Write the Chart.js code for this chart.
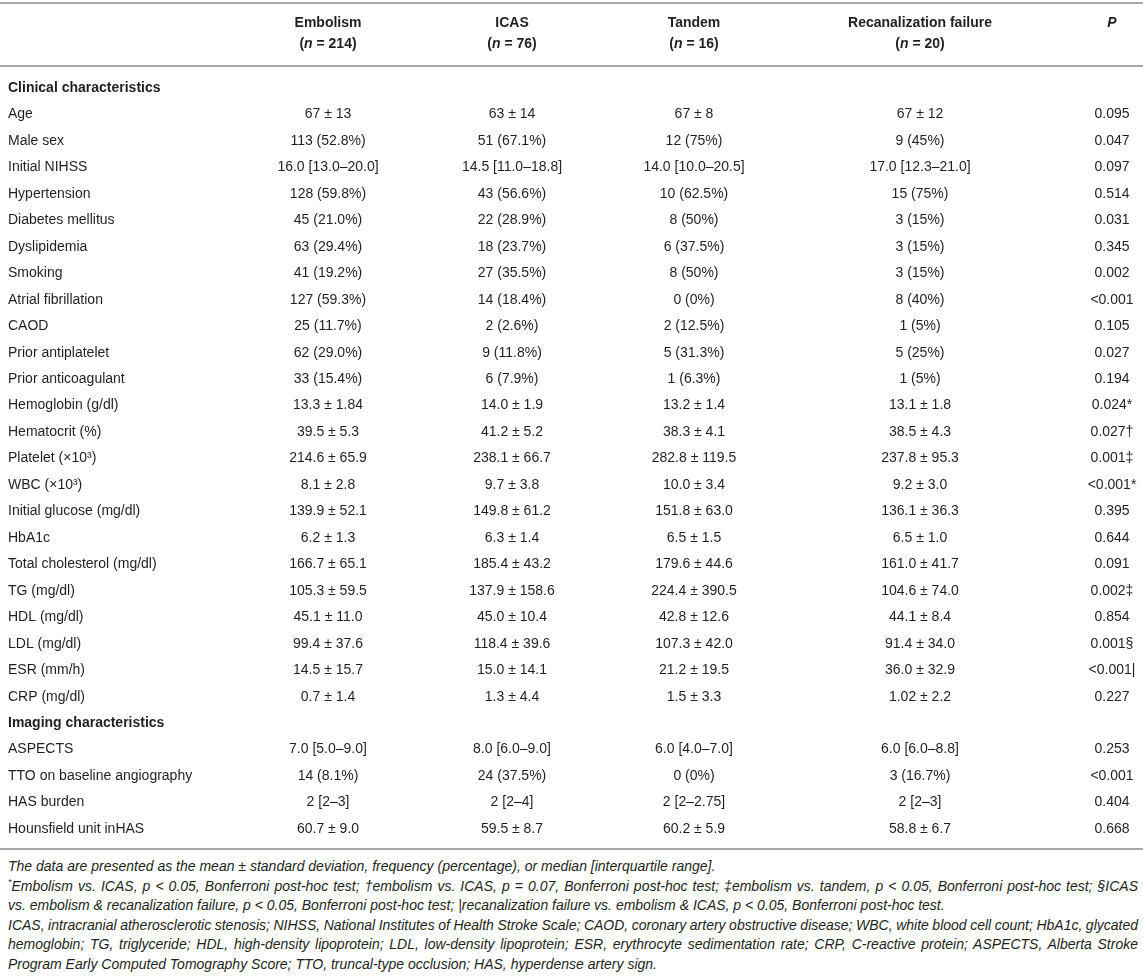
<!DOCTYPE html>
<html>
<head>
<meta charset="utf-8">
<script src="https://cdn.jsdelivr.net/npm/chart.js@4.4.1/dist/chart.umd.min.js"></script>
<style>
  html, body { margin: 0; padding: 0; background: #ffffff; }
  #wrap { position: relative; width: 1143px; height: 852px; }
  #notes { width: 1130px; margin-left: 8px; padding-top: 5px;
           font-family: "Liberation Sans", Arial, sans-serif; font-style: italic;
           font-size: 14px; line-height: 19.5px; color: #231f20; }
  #notes div { white-space: nowrap; }
  #notes sup { font-size: 9px; line-height: 0; }
</style>
</head>
<body>
<div id="wrap"><canvas id="c" width="1143" height="852"></canvas></div>
<div id="notes">
  <div><span>The data are presented as the mean ± standard deviation, frequency (percentage), or median [interquartile range].</span></div>
  <div class="j"><span><sup>*</sup>Embolism vs. ICAS, p &lt; 0.05, Bonferroni post-hoc test; †embolism vs. ICAS, p = 0.07, Bonferroni post-hoc test; ‡embolism vs. tandem, p &lt; 0.05, Bonferroni post-hoc test; §ICAS</span></div>
  <div><span>vs. embolism &amp; recanalization failure, p &lt; 0.05, Bonferroni post-hoc test; |recanalization failure vs. embolism &amp; ICAS, p &lt; 0.05, Bonferroni post-hoc test.</span></div>
  <div class="j"><span>ICAS, intracranial atherosclerotic stenosis; NIHSS, National Institutes of Health Stroke Scale; CAOD, coronary artery obstructive disease; WBC, white blood cell count; HbA1c, glycated</span></div>
  <div class="j"><span>hemoglobin; TG, triglyceride; HDL, high-density lipoprotein; LDL, low-density lipoprotein; ESR, erythrocyte sedimentation rate; CRP, C-reactive protein; ASPECTS, Alberta Stroke</span></div>
  <div><span>Program Early Computed Tomography Score; TTO, truncal-type occlusion; HAS, hyperdense artery sign.</span></div>
</div>
<script>
// ---------------- DATA ----------------
const rowLabels = [
  "Clinical characteristics", "Age", "Male sex", "Initial NIHSS", "Hypertension",
  "Diabetes mellitus", "Dyslipidemia", "Smoking", "Atrial fibrillation", "CAOD",
  "Prior antiplatelet", "Prior anticoagulant", "Hemoglobin (g/dl)", "Hematocrit (%)",
  "Platelet (×10³)", "WBC (×10³)", "Initial glucose (mg/dl)", "HbA1c",
  "Total cholesterol (mg/dl)", "TG (mg/dl)", "HDL (mg/dl)", "LDL (mg/dl)",
  "ESR (mm/h)", "CRP (mg/dl)", "Imaging characteristics", "ASPECTS",
  "TTO on baseline angiography", "HAS burden", "Hounsfield unit inHAS"
];
const sectionRows = [0, 24];
const groupNames = ["Embolism", "ICAS", "Tandem", "Recanalization failure"];
const groupN = [214, 76, 16, 20];
const pHeader = "P";

const embolism = ["", "67 ± 13", "113 (52.8%)", "16.0 [13.0–20.0]", "128 (59.8%)", "45 (21.0%)",
  "63 (29.4%)", "41 (19.2%)", "127 (59.3%)", "25 (11.7%)", "62 (29.0%)", "33 (15.4%)",
  "13.3 ± 1.84", "39.5 ± 5.3", "214.6 ± 65.9", "8.1 ± 2.8", "139.9 ± 52.1", "6.2 ± 1.3",
  "166.7 ± 65.1", "105.3 ± 59.5", "45.1 ± 11.0", "99.4 ± 37.6", "14.5 ± 15.7", "0.7 ± 1.4",
  "", "7.0 [5.0–9.0]", "14 (8.1%)", "2 [2–3]", "60.7 ± 9.0"];
const icas = ["", "63 ± 14", "51 (67.1%)", "14.5 [11.0–18.8]", "43 (56.6%)", "22 (28.9%)",
  "18 (23.7%)", "27 (35.5%)", "14 (18.4%)", "2 (2.6%)", "9 (11.8%)", "6 (7.9%)",
  "14.0 ± 1.9", "41.2 ± 5.2", "238.1 ± 66.7", "9.7 ± 3.8", "149.8 ± 61.2", "6.3 ± 1.4",
  "185.4 ± 43.2", "137.9 ± 158.6", "45.0 ± 10.4", "118.4 ± 39.6", "15.0 ± 14.1", "1.3 ± 4.4",
  "", "8.0 [6.0–9.0]", "24 (37.5%)", "2 [2–4]", "59.5 ± 8.7"];
const tandem = ["", "67 ± 8", "12 (75%)", "14.0 [10.0–20.5]", "10 (62.5%)", "8 (50%)",
  "6 (37.5%)", "8 (50%)", "0 (0%)", "2 (12.5%)", "5 (31.3%)", "1 (6.3%)",
  "13.2 ± 1.4", "38.3 ± 4.1", "282.8 ± 119.5", "10.0 ± 3.4", "151.8 ± 63.0", "6.5 ± 1.5",
  "179.6 ± 44.6", "224.4 ± 390.5", "42.8 ± 12.6", "107.3 ± 42.0", "21.2 ± 19.5", "1.5 ± 3.3",
  "", "6.0 [4.0–7.0]", "0 (0%)", "2 [2–2.75]", "60.2 ± 5.9"];
const recanalization = ["", "67 ± 12", "9 (45%)", "17.0 [12.3–21.0]", "15 (75%)", "3 (15%)",
  "3 (15%)", "3 (15%)", "8 (40%)", "1 (5%)", "5 (25%)", "1 (5%)",
  "13.1 ± 1.8", "38.5 ± 4.3", "237.8 ± 95.3", "9.2 ± 3.0", "136.1 ± 36.3", "6.5 ± 1.0",
  "161.0 ± 41.7", "104.6 ± 74.0", "44.1 ± 8.4", "91.4 ± 34.0", "36.0 ± 32.9", "1.02 ± 2.2",
  "", "6.0 [6.0–8.8]", "3 (16.7%)", "2 [2–3]", "58.8 ± 6.7"];
const pValues = ["", "0.095", "0.047", "0.097", "0.514", "0.031", "0.345", "0.002", "<0.001",
  "0.105", "0.027", "0.194", "0.024*", "0.027†", "0.001‡", "<0.001*", "0.395", "0.644",
  "0.091", "0.002‡", "0.854", "0.001§", "<0.001|", "0.227", "", "0.253", "<0.001",
  "0.404", "0.668"];

// ---------------- LAYOUT / STYLE ----------------
const columns = [embolism, icas, tandem, recanalization, pValues];
const colX = [328, 512, 694, 920, 1112];      // column centres on the x scale
const FONT = '"Liberation Sans", Arial, Helvetica, sans-serif';
const TEXT = '#231f20';
const RULE = '#a6a6a6';
const AXIS_W = 212, PAD_L = 8, PAD_T = 88, PAD_B = 23;
const HEAD_Y1 = 23, HEAD_Y2 = 44;
const RULES_Y = [3, 66, 849];

function drawRuns(ctx, runs, cx, y) {
  let total = 0;
  runs.forEach(r => { ctx.font = r.font; r.w = ctx.measureText(r.t).width; total += r.w; });
  let x = cx - total / 2;
  ctx.textAlign = 'left';
  runs.forEach(r => { ctx.font = r.font; ctx.fillText(r.t, x, y); x += r.w; });
}

const tablePlugin = {
  id: 'tableText',
  afterDatasetsDraw(chart) {
    const ctx = chart.ctx;
    const xs = chart.scales.x;
    ctx.save();
    ctx.strokeStyle = RULE;
    ctx.lineWidth = 2;
    RULES_Y.forEach(y => {
      ctx.beginPath(); ctx.moveTo(0, y); ctx.lineTo(chart.width, y); ctx.stroke();
    });
    ctx.fillStyle = TEXT;
    ctx.textBaseline = 'middle';
    chart.data.datasets.forEach((ds, j) => {
      const meta = chart.getDatasetMeta(j);
      ctx.font = '14px ' + FONT;
      ctx.textAlign = 'center';
      meta.data.forEach((el, i) => {
        const t = columns[j][i];
        if (t) ctx.fillText(t, el.x, el.y);
      });
    });
    groupNames.forEach((g, j) => {
      const cx = xs.getPixelForValue(colX[j]);
      ctx.font = 'bold 14px ' + FONT;
      ctx.textAlign = 'center';
      ctx.fillText(g, cx, HEAD_Y1);
      drawRuns(ctx, [
        { t: '(', font: 'bold 14px ' + FONT },
        { t: 'n', font: 'italic bold 14px ' + FONT },
        { t: ' = ' + groupN[j] + ')', font: 'bold 14px ' + FONT }
      ], cx, HEAD_Y2);
    });
    ctx.font = 'italic bold 14px ' + FONT;
    ctx.textAlign = 'center';
    ctx.fillText(pHeader, xs.getPixelForValue(colX[4]), HEAD_Y1);
    ctx.restore();
  }
};

const datasets = columns.map((col, j) => ({
  label: j < 4 ? groupNames[j] : pHeader,
  data: rowLabels.map(lab => ({ x: colX[j], y: lab })),
  pointRadius: 0,
  pointHoverRadius: 0,
  showLine: false
}));

new Chart(document.getElementById('c'), {
  type: 'scatter',
  data: { labels: rowLabels, datasets },
  plugins: [tablePlugin],
  options: {
    responsive: false,
    animation: false,
    events: [],
    layout: { padding: { left: PAD_L, right: 0, top: PAD_T, bottom: PAD_B } },
    plugins: { legend: { display: false }, tooltip: { enabled: false }, title: { display: false } },
    scales: {
      x: {
        type: 'linear', display: false,
        min: PAD_L + AXIS_W, max: 1143
      },
      y: {
        type: 'category', labels: rowLabels, offset: false,
        grid: { display: false }, border: { display: false },
        afterFit: s => { s.width = AXIS_W; },
        ticks: {
          autoSkip: false, padding: 0, crossAlign: 'far', color: TEXT,
          font: ctx => ({ family: FONT, size: 14,
                          weight: sectionRows.includes(ctx.index) ? 'bold' : 'normal' })
        }
      }
    }
  }
});

// justify the full-width footnote lines
document.querySelectorAll('#notes .j').forEach(el => {
  const span = el.firstElementChild;
  const natural = span.getBoundingClientRect().width;
  const spaces = (span.textContent.match(/ /g) || []).length;
  const extra = (el.clientWidth - natural) / spaces;
  span.style.wordSpacing = extra + 'px';
});
</script>
</body>
</html>
